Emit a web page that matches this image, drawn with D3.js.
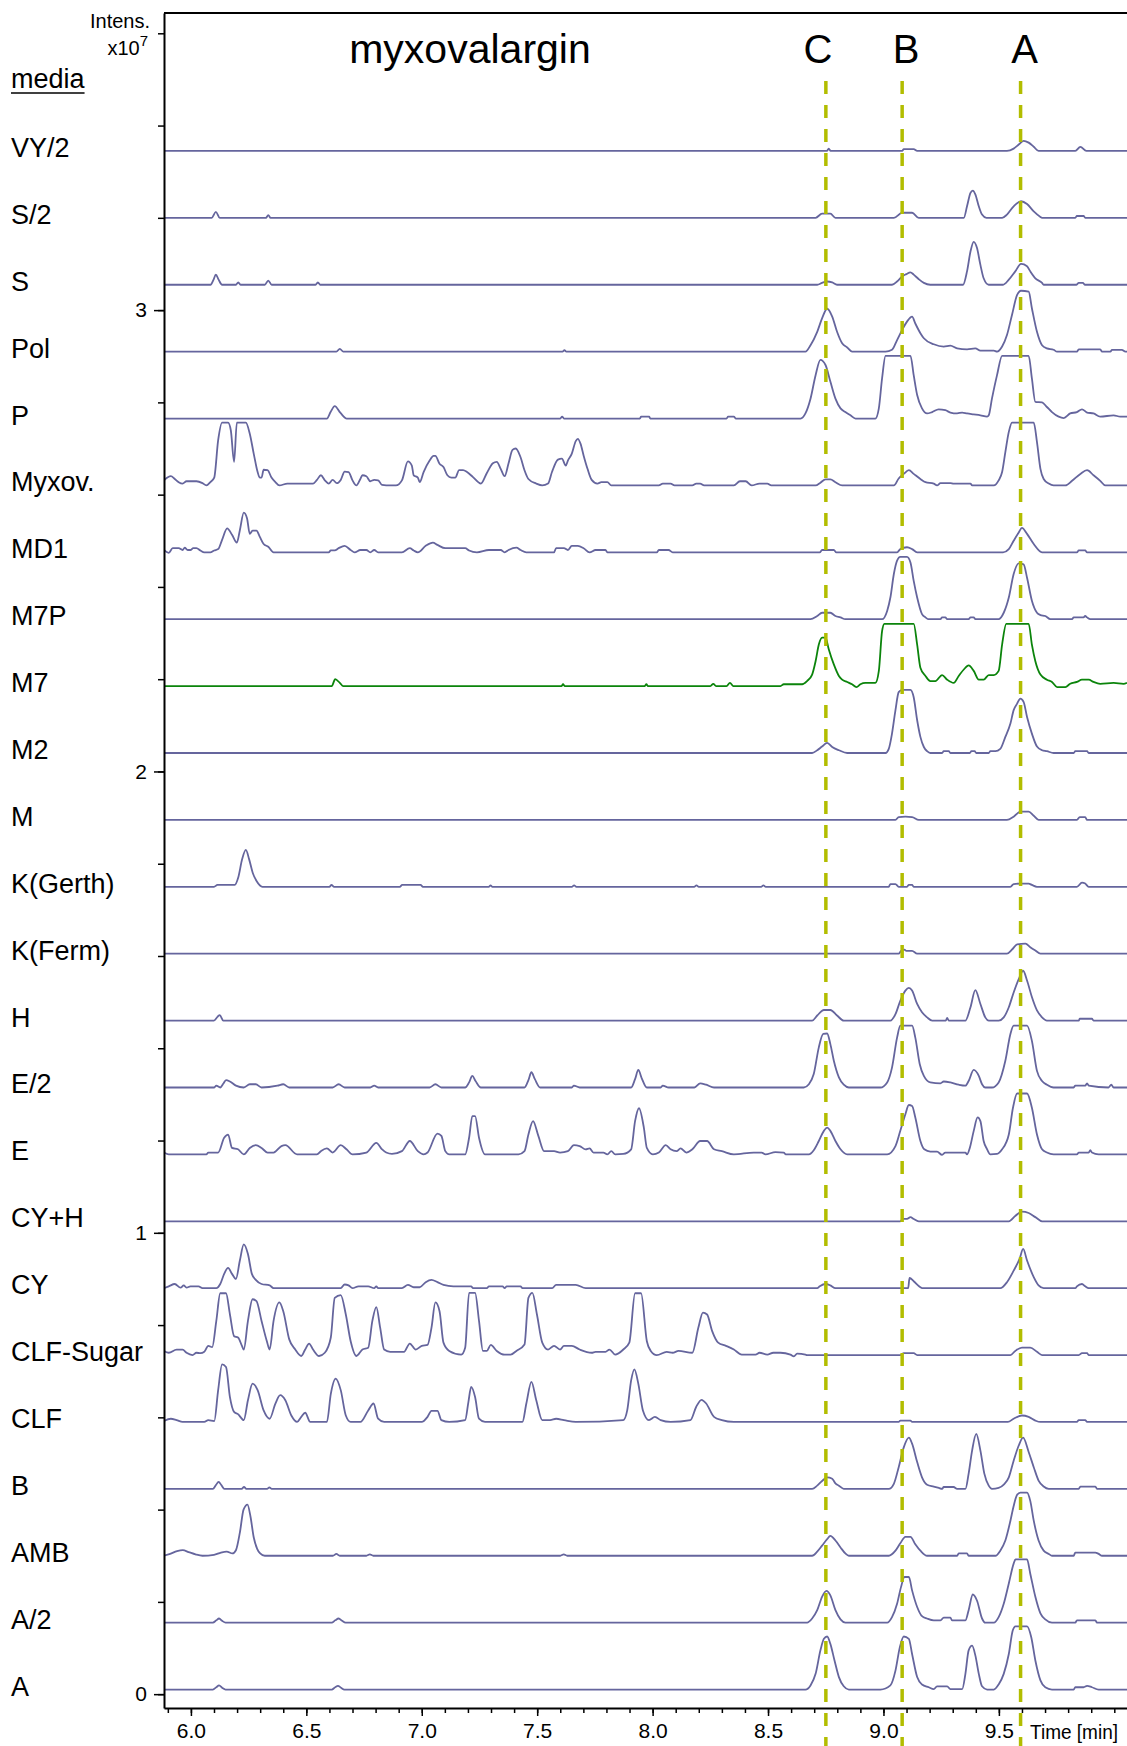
<!DOCTYPE html>
<html>
<head>
<meta charset="utf-8">
<script src="https://cdn.jsdelivr.net/npm/d3@7"></script>
<style>
  body { margin: 0; background: #fff; }
</style>
</head>
<body>
<div id="chart"></div>
<script>
// retention time window (min) and intensity window (x10^7)
var timeDomain = [5.8834, 10.055];
var intensDomain = [-0.03, 3.644];
var xMajorTicks = [6.0, 6.5, 7.0, 7.5, 8.0, 8.5, 9.0, 9.5];
var yMajorTicks = [0, 1, 2, 3];

// marked compounds C, B, A (retention time, min)
var peakNames = ['C', 'B', 'A'];
var peakTimes = [8.7505, 9.081, 9.594];

// media, bottom trace first
var sampleNames = ['A', 'A/2', 'AMB', 'B', 'CLF', 'CLF-Sugar', 'CY', 'CY+H', 'E', 'E/2', 'H',
  'K(Ferm)', 'K(Gerth)', 'M', 'M2', 'M7', 'M7P', 'MD1', 'Myxov.', 'P', 'Pol', 'S', 'S/2', 'VY/2'];

// each trace: [time (min), intensity above its own baseline (x10^4)]
var traceA = [[5.883,0],[6.095,0],[6.11,5],[6.122,9],[6.135,4],[6.15,0],[6.61,0],[6.625,5],[6.637,8],[6.65,4],[6.665,0],
  [8.662,0],[8.684,9],[8.706,34],[8.727,85],[8.742,110],[8.756,115],[8.770,99],[8.788,63],[8.807,27],[8.828,7],[8.850,0],
  [8.987,0],[9.030,9],[9.052,41],[9.071,92],[9.088,115],[9.110,110],[9.124,77],[9.146,27],[9.167,11],[9.196,5],[9.218,1],[9.232,7],[9.276,7],[9.290,1],[9.341,1],
  [9.355,34],[9.369,85],[9.384,95],[9.398,74],[9.413,34],[9.427,7],[9.449,0],[9.478,0],
  [9.499,11],[9.521,34],[9.543,77],[9.560,128],[9.572,137],[9.622,137],[9.640,114],[9.658,63],[9.680,20],[9.701,5],[9.730,0],
  [9.824,0],[9.831,5],[9.867,5],[9.882,8],[9.903,5],[9.932,0],[10.055,0]];

var traceA2 = [[5.883,0],[6.095,0],[6.11,5],[6.122,9],[6.135,4],[6.15,0],[6.61,0],[6.625,5],[6.64,9],[6.655,4],[6.67,0],
  [8.669,0],[8.691,9],[8.713,27],[8.734,56],[8.753,69],[8.770,59],[8.792,27],[8.814,7],[8.835,0],
  [9.016,0],[9.037,12],[9.059,41],[9.076,77],[9.091,99],[9.110,99],[9.124,70],[9.146,34],[9.167,14],[9.189,9],[9.218,5],[9.247,5],[9.261,11],[9.290,11],[9.297,5],[9.355,5],
  [9.369,27],[9.387,61],[9.405,48],[9.427,9],[9.441,0],[9.478,0],
  [9.499,12],[9.521,41],[9.543,85],[9.564,128],[9.572,137],[9.622,137],[9.636,106],[9.658,56],[9.680,20],[9.701,7],[9.730,0],
  [9.831,0],[9.838,5],[9.918,5],[9.925,0],[10.055,0]];

var traceAMB = [[5.883,0],[5.91,4],[5.94,10],[5.965,12],[5.99,8],[6.02,3],[6.05,0],[6.10,2],[6.13,7],[6.155,9],[6.18,5],[6.195,12],[6.212,50],[6.228,100],[6.245,111],[6.258,85],[6.272,40],[6.287,15],[6.30,5],[6.32,0],
  [6.615,0],[6.63,4],[6.645,0],[6.76,0],[6.775,3],[6.79,0],[7.60,0],[7.615,3],[7.63,0],
  [8.691,0],[8.713,9],[8.734,22],[8.756,36],[8.770,43],[8.792,33],[8.814,18],[8.835,5],[8.850,0],
  [9.023,0],[9.052,11],[9.073,27],[9.095,41],[9.117,41],[9.138,25],[9.160,11],[9.189,0],[9.319,0],[9.326,5],[9.362,5],[9.369,0],[9.485,0],
  [9.506,11],[9.528,33],[9.550,76],[9.564,108],[9.579,132],[9.593,137],[9.622,137],[9.636,119],[9.651,76],[9.672,33],[9.694,11],[9.716,4],[9.73,0],
  [9.824,0],[9.831,7],[9.918,7],[9.932,4],[9.947,0],[10.055,0]];

var traceB = [[5.883,0],[6.095,0],[6.108,8],[6.12,15],[6.132,8],[6.145,0],[6.22,0],[6.23,4],[6.24,0],[6.33,0],[6.34,3],[6.35,0],
  [8.691,0],[8.713,7],[8.734,17],[8.756,25],[8.778,22],[8.792,12],[8.807,7],[8.828,0],
  [9.023,0],[9.045,11],[9.066,47],[9.088,90],[9.110,111],[9.124,98],[9.146,58],[9.167,25],[9.189,9],[9.218,5],[9.240,2],[9.254,0],[9.261,4],[9.304,4],[9.319,0],[9.355,0],
  [9.369,33],[9.384,83],[9.402,119],[9.420,83],[9.437,33],[9.456,7],[9.470,0],[9.499,2],
  [9.521,9],[9.543,25],[9.564,61],[9.586,94],[9.605,111],[9.629,80],[9.651,47],[9.672,18],[9.694,5],[9.716,0],
  [9.846,0],[9.853,5],[9.918,5],[9.925,0],[10.055,0]];

var traceCLF = [[5.883,2],[5.913,7],[5.938,4],[5.964,0],[6.058,0],[6.075,4],[6.101,2],[6.118,69],[6.135,125],[6.152,119],[6.169,54],[6.187,22],[6.204,17],[6.229,4],[6.247,47],[6.267,83],[6.289,69],[6.315,25],[6.341,7],[6.366,40],[6.387,58],[6.409,47],[6.435,14],[6.460,0],[6.478,11],[6.495,20],[6.517,0],[6.589,0],[6.606,61],[6.627,94],[6.649,69],[6.671,14],[6.692,0],[6.734,0],[6.768,25],[6.791,40],[6.811,7],[6.837,0],[7.000,0],[7.025,11],[7.042,24],[7.068,24],[7.085,4],[7.119,0],[7.188,4],[7.202,43],[7.214,76],[7.231,54],[7.248,7],[7.274,0],[7.436,0],[7.453,40],[7.475,87],[7.496,47],[7.522,4],[7.556,4],[7.582,7],[7.616,4],[7.667,0],[7.873,4],[7.890,25],[7.907,90],[7.921,114],[7.938,83],[7.958,25],[7.984,4],[8.010,11],[8.035,4],[8.078,0],[8.164,4],[8.189,33],[8.212,48],[8.232,40],[8.266,11],[8.300,4],[8.352,0],
  [9.066,0],[9.073,3],[9.117,3],[9.124,0],[9.539,0],[9.564,7],[9.600,14],[9.629,11],[9.658,3],[9.680,0],[9.838,0],[9.846,4],[9.874,4],[9.882,0],[10.055,0]];

var traceCLFSugar = [[5.883,9],[5.904,5],[5.938,12],[5.964,12],[5.981,5],[6.007,0],[6.024,5],[6.041,4],[6.058,7],[6.075,20],[6.092,17],[6.110,74],[6.127,134],[6.152,134],[6.169,88],[6.187,41],[6.204,38],[6.221,20],[6.229,12],[6.247,74],[6.267,121],[6.284,117],[6.306,74],[6.329,30],[6.341,12],[6.358,74],[6.383,114],[6.400,95],[6.426,34],[6.452,12],[6.478,-2],[6.495,12],[6.512,25],[6.529,12],[6.555,-2],[6.580,5],[6.606,38],[6.623,124],[6.649,130],[6.671,88],[6.692,30],[6.717,-2],[6.743,12],[6.768,16],[6.786,74],[6.803,104],[6.820,59],[6.837,12],[6.863,7],[6.923,7],[6.948,25],[6.974,12],[7.000,20],[7.025,22],[7.042,59],[7.059,114],[7.077,95],[7.094,27],[7.119,9],[7.171,1],[7.188,16],[7.205,135],[7.231,135],[7.248,74],[7.265,9],[7.282,9],[7.299,22],[7.325,9],[7.359,1],[7.385,1],[7.410,9],[7.445,23],[7.462,124],[7.479,135],[7.499,88],[7.522,27],[7.547,12],[7.573,20],[7.599,12],[7.616,20],[7.650,20],[7.684,12],[7.736,5],[7.753,7],[7.796,7],[7.813,12],[7.838,1],[7.873,12],[7.899,27],[7.924,134],[7.950,134],[7.975,30],[7.992,9],[8.018,0],[8.061,7],[8.087,5],[8.112,9],[8.172,5],[8.198,59],[8.218,92],[8.236,88],[8.258,52],[8.284,27],[8.318,20],[8.352,12],[8.386,1],[8.446,1],[8.463,5],[8.497,1],[8.523,5],[8.554,5],[8.597,1],[8.612,-3],[8.626,3],[8.662,1],[8.669,0],
  [9.073,0],[9.088,4],[9.131,4],[9.146,0],[9.550,0],[9.571,9],[9.600,16],[9.636,16],[9.665,7],[9.687,0],[9.846,0],[9.860,4],[9.882,4],[9.889,0],[10.055,0]];

var traceCY = [[5.883,0],[5.904,4],[5.930,9],[5.955,1],[5.969,6],[5.981,1],[5.998,4],[6.033,4],[6.050,0],[6.110,0],[6.127,9],[6.144,31],[6.161,44],[6.178,31],[6.195,20],[6.212,60],[6.229,95],[6.247,74],[6.264,31],[6.281,18],[6.306,9],[6.341,6],[6.358,0],[6.649,0],[6.666,8],[6.683,6],[6.700,0],[6.726,4],[6.768,4],[6.794,0],[6.803,4],[6.811,0],[6.914,0],[6.940,7],[6.965,2],[6.991,2],[7.017,13],[7.042,18],[7.068,13],[7.094,7],[7.137,4],[7.214,4],[7.222,0],[7.282,0],[7.291,4],[7.350,4],[7.359,0],[7.368,4],[7.428,4],[7.436,0],[7.565,0],[7.582,7],[7.667,7],[7.710,0],
  [8.713,0],[8.724,4],[8.749,9],[8.770,6],[8.792,0],[9.107,0],[9.113,22],[9.131,15],[9.160,2],[9.167,0],[9.506,0],[9.535,13],[9.564,38],[9.590,64],[9.605,85],[9.622,60],[9.651,24],[9.672,6],[9.694,0],[9.831,0],[9.838,4],[9.860,9],[9.874,4],[9.889,0],[10.055,0]];

var traceCYH = [[5.883,0],[9.073,0],[9.085,5],[9.102,5],[9.117,9],[9.131,5],[9.153,0],[9.543,0],[9.572,12],[9.600,21],[9.629,18],[9.658,9],[9.687,0],[10.055,0]];

var traceE = [[5.883,4],[5.904,0],[6.067,0],[6.075,4],[6.118,4],[6.144,36],[6.161,43],[6.178,14],[6.204,11],[6.229,0],[6.255,14],[6.281,20],[6.306,14],[6.332,4],[6.358,4],[6.392,18],[6.409,20],[6.460,0],[6.546,0],[6.563,7],[6.589,13],[6.614,4],[6.649,20],[6.674,11],[6.700,0],[6.760,4],[6.803,25],[6.828,11],[6.846,4],[6.871,1],[6.914,7],[6.948,29],[6.983,7],[7.008,0],[7.025,4],[7.068,45],[7.085,40],[7.102,7],[7.119,0],[7.188,0],[7.205,36],[7.219,83],[7.231,83],[7.248,36],[7.274,0],[7.419,0],[7.445,7],[7.462,43],[7.482,72],[7.505,40],[7.530,7],[7.573,7],[7.599,4],[7.633,7],[7.659,20],[7.684,18],[7.710,11],[7.727,13],[7.744,4],[7.787,4],[7.804,0],[7.821,7],[7.838,0],[7.873,1],[7.907,11],[7.924,72],[7.941,100],[7.962,58],[7.975,14],[8.001,0],[8.027,4],[8.057,20],[8.078,11],[8.104,7],[8.121,13],[8.146,4],[8.172,11],[8.206,29],[8.236,29],[8.266,11],[8.300,7],[8.352,0],[8.438,4],[8.472,4],[8.489,0],[8.532,5],[8.568,4],[8.577,0],
  [8.677,0],[8.698,9],[8.720,29],[8.742,51],[8.756,58],[8.770,51],[8.792,29],[8.814,11],[8.843,0],
  [9.016,0],[9.052,18],[9.073,51],[9.095,87],[9.110,107],[9.124,105],[9.138,80],[9.160,29],[9.177,11],[9.203,6],[9.232,6],[9.254,-1],[9.268,4],[9.355,4],[9.362,0],
  [9.374,14],[9.391,51],[9.408,80],[9.420,72],[9.434,29],[9.449,11],[9.463,0],[9.492,1],
  [9.514,11],[9.543,43],[9.561,101],[9.579,132],[9.622,132],[9.643,101],[9.665,43],[9.687,11],[9.708,4],[9.737,0],[9.838,0],[9.846,4],[9.889,4],[9.896,9],[9.903,4],[9.932,0],[10.055,0]];

var traceE2 = [[5.883,0],[6.101,0],[6.110,4],[6.127,0],[6.140,8],[6.152,16],[6.169,13],[6.195,4],[6.229,0],[6.255,7],[6.281,7],[6.306,0],[6.375,4],[6.400,7],[6.426,0],[6.614,0],[6.640,7],[6.666,0],[6.777,0],[6.794,4],[6.811,0],[7.034,0],[7.059,7],[7.085,0],[7.188,0],[7.205,11],[7.219,25],[7.233,14],[7.256,0],[7.445,0],[7.462,16],[7.475,33],[7.490,18],[7.513,0],[7.650,0],[7.659,4],[7.684,0],[7.907,0],[7.924,18],[7.938,38],[7.953,20],[7.975,0],[8.035,0],[8.044,4],[8.070,0],[8.181,0],[8.206,9],[8.232,6],[8.266,0],
  [8.655,0],[8.677,7],[8.698,29],[8.720,87],[8.739,116],[8.756,117],[8.770,94],[8.785,58],[8.807,22],[8.828,6],[8.850,0],
  [8.987,0],[9.016,11],[9.037,43],[9.059,108],[9.073,134],[9.124,134],[9.138,108],[9.157,51],[9.175,25],[9.203,11],[9.247,9],[9.261,13],[9.290,11],[9.326,6],[9.355,4],
  [9.369,14],[9.391,38],[9.413,25],[9.427,7],[9.441,0],[9.470,0],
  [9.499,11],[9.528,58],[9.550,116],[9.564,134],[9.622,134],[9.643,101],[9.665,36],[9.687,14],[9.708,6],[9.737,0],[9.824,0],[9.831,4],[9.874,4],[9.882,9],[9.889,4],[9.975,0],[9.987,6],[9.997,0],[10.055,0]];

var traceH = [[5.883,0],[6.100,0],[6.115,8],[6.125,12],[6.140,0],
  [8.691,0],[8.713,11],[8.742,23],[8.770,23],[8.799,11],[8.828,0],
  [9.030,0],[9.052,14],[9.073,43],[9.095,65],[9.110,71],[9.124,65],[9.146,36],[9.167,18],[9.189,7],[9.211,0],[9.270,0],[9.276,6],[9.283,0],
  [9.355,0],[9.377,29],[9.398,66],[9.420,36],[9.441,7],[9.456,0],
  [9.499,0],[9.521,7],[9.543,29],[9.564,61],[9.586,90],[9.605,108],[9.622,87],[9.643,51],[9.665,22],[9.687,7],[9.708,0],[9.846,0],[9.850,4],[9.903,4],[9.910,0],[10.055,0]];

var traceKFerm = [[5.883,0],[9.066,0],[9.076,6],[9.091,9],[9.099,6],[9.124,6],[9.146,0],[9.535,0],[9.557,9],[9.579,20],[9.615,22],[9.636,14],[9.658,7],[9.680,0],[10.055,0]];

var traceKGerth = [[5.883,0],[6.100,0],[6.115,4],[6.190,4],[6.205,20],[6.222,60],[6.238,80],[6.252,60],[6.268,30],[6.285,12],[6.310,0],[6.600,0],[6.609,4],[6.620,0],[6.905,0],[6.915,4],[6.995,4],[7.005,0],[7.290,0],[7.298,3],[7.306,0],[7.650,0],[7.660,3],[7.670,0],[8.180,0],[8.190,3],[8.200,0],[8.470,0],[8.480,3],[8.490,0],
  [9.023,0],[9.030,6],[9.052,6],[9.066,0],[9.102,0],[9.110,4],[9.124,4],[9.131,0],[9.550,0],[9.564,6],[9.593,7],[9.629,7],[9.643,4],[9.665,0],[9.838,0],[9.860,9],[9.874,7],[9.889,0],[10.055,0]];

var traceM = [[5.883,0],[9.052,0],[9.066,6],[9.095,7],[9.124,6],[9.153,0],[9.535,0],[9.564,7],[9.593,18],[9.629,18],[9.651,9],[9.672,0],[9.838,0],[9.850,6],[9.874,6],[9.882,0],[10.055,0]];

var traceM2 = [[5.883,0],[8.691,0],[8.713,6],[8.734,14],[8.756,22],[8.778,13],[8.807,6],[8.843,0],[9.009,0],[9.023,9],[9.037,42],[9.052,93],[9.066,132],[9.081,137],[9.117,137],[9.131,121],[9.146,71],[9.160,35],[9.175,13],[9.189,4],[9.203,0],[9.254,0],[9.261,4],[9.283,4],[9.290,0],[9.374,0],[9.381,4],[9.395,4],[9.402,0],[9.456,0],[9.463,4],[9.485,4],[9.506,9],[9.528,35],[9.550,64],[9.564,93],[9.579,107],[9.593,118],[9.607,111],[9.622,78],[9.643,42],[9.665,14],[9.687,6],[9.708,4],[9.737,0],[9.824,0],[9.831,4],[9.882,4],[9.889,0],[10.055,0]];

var traceM7 = [[5.883,0],[6.610,0],[6.625,15],[6.645,7],[6.660,0],[7.605,0],[7.612,4],[7.620,0],[7.965,0],[7.973,4],[7.980,0],[8.250,0],[8.263,5],[8.275,0],[8.320,0],[8.335,7],[8.350,0],
  [8.554,0],[8.568,4],[8.648,4],[8.669,11],[8.691,25],[8.706,54],[8.720,90],[8.734,105],[8.749,105],[8.763,80],[8.785,47],[8.807,22],[8.821,14],[8.843,9],[8.864,4],[8.883,-2],[8.900,4],[8.922,7],[8.965,7],[8.980,33],[8.994,119],[9.004,135],[9.131,135],[9.146,90],[9.160,40],[9.182,22],[9.203,11],[9.225,11],[9.254,24],[9.276,14],[9.304,7],[9.326,22],[9.348,36],[9.369,45],[9.391,33],[9.413,14],[9.434,14],[9.456,24],[9.478,24],[9.499,33],[9.514,90],[9.532,135],[9.629,135],[9.643,90],[9.658,54],[9.680,25],[9.708,14],[9.730,9],[9.752,-2],[9.788,-2],[9.809,5],[9.838,9],[9.860,14],[9.889,14],[9.910,9],[9.939,5],[9.997,7],[10.040,5],[10.055,7]];

var traceM7P = [[5.883,0],[8.684,0],[8.713,7],[8.734,14],[8.770,14],[8.792,7],[8.814,4],[8.835,0],[8.994,0],[9.016,18],[9.030,47],[9.045,98],[9.059,127],[9.073,135],[9.102,135],[9.117,123],[9.131,83],[9.146,47],[9.167,11],[9.182,4],[9.196,0],[9.247,0],[9.254,4],[9.268,4],[9.276,0],[9.369,0],[9.377,4],[9.391,4],[9.398,0],[9.499,0],[9.521,14],[9.543,47],[9.564,98],[9.586,121],[9.607,119],[9.622,90],[9.643,40],[9.665,14],[9.680,9],[9.701,7],[9.723,0],[9.817,0],[9.824,4],[9.867,4],[9.874,7],[9.882,4],[9.896,0],[10.055,0]];

var traceMD1 = [[5.883,5],[5.904,-1],[5.921,9],[5.947,9],[5.964,5],[5.973,10],[5.986,5],[5.998,5],[6.010,9],[6.024,9],[6.041,4],[6.058,0],[6.084,0],[6.101,4],[6.118,7],[6.135,27],[6.157,52],[6.178,38],[6.199,21],[6.212,48],[6.229,86],[6.243,74],[6.255,40],[6.267,47],[6.284,47],[6.298,34],[6.315,18],[6.335,12],[6.358,0],[6.597,0],[6.606,4],[6.623,4],[6.640,9],[6.666,14],[6.692,5],[6.709,0],[6.734,5],[6.760,5],[6.777,0],[6.794,5],[6.811,0],[6.914,0],[6.948,9],[6.965,4],[6.983,0],[7.017,14],[7.048,21],[7.068,16],[7.102,9],[7.188,9],[7.205,4],[7.239,0],[7.291,5],[7.342,5],[7.359,0],[7.376,5],[7.410,10],[7.428,5],[7.453,0],[7.573,0],[7.582,9],[7.616,9],[7.633,5],[7.650,14],[7.676,14],[7.701,9],[7.727,0],[7.753,5],[7.796,5],[7.804,0],[8.018,0],[8.027,5],[8.069,5],[8.087,0],
  [8.724,0],[8.734,5],[8.785,5],[8.796,0],[9.059,0],[9.073,7],[9.102,11],[9.124,7],[9.146,0],[9.518,0],[9.543,7],[9.564,25],[9.586,43],[9.600,53],[9.622,40],[9.651,18],[9.687,0],[9.838,0],[9.846,4],[9.874,4],[9.882,0],[10.055,0]];

var traceMyxov = [[5.883,11],[5.913,20],[5.930,14],[5.947,7],[5.964,4],[5.981,9],[6.024,9],[6.050,5],[6.067,0],[6.084,7],[6.101,17],[6.118,98],[6.135,136],[6.161,136],[6.173,119],[6.187,51],[6.199,136],[6.238,136],[6.255,112],[6.272,69],[6.289,29],[6.298,17],[6.306,17],[6.315,34],[6.332,33],[6.349,17],[6.366,7],[6.383,0],[6.418,4],[6.529,4],[6.546,12],[6.563,22],[6.580,11],[6.597,4],[6.614,12],[6.632,5],[6.649,12],[6.666,30],[6.683,29],[6.700,11],[6.717,0],[6.734,14],[6.743,22],[6.760,20],[6.777,9],[6.794,12],[6.811,11],[6.828,1],[6.846,0],[6.888,0],[6.914,11],[6.940,52],[6.957,43],[6.965,22],[6.983,17],[6.991,7],[7.008,29],[7.034,54],[7.051,64],[7.059,64],[7.077,47],[7.094,40],[7.111,22],[7.128,17],[7.145,17],[7.162,33],[7.179,33],[7.196,29],[7.222,18],[7.256,4],[7.282,27],[7.308,48],[7.325,51],[7.342,36],[7.359,20],[7.376,48],[7.393,77],[7.407,80],[7.428,61],[7.445,33],[7.462,14],[7.496,4],[7.522,0],[7.547,4],[7.564,29],[7.590,56],[7.607,58],[7.624,43],[7.633,54],[7.650,69],[7.667,96],[7.676,101],[7.688,90],[7.701,65],[7.718,36],[7.736,12],[7.761,4],[7.778,7],[7.804,7],[7.821,0],[8.027,0],[8.044,4],[8.078,4],[8.095,0],[8.172,0],[8.189,4],[8.206,4],[8.223,0],[8.352,0],[8.378,9],[8.403,9],[8.429,0],[8.463,4],[8.497,4],[8.514,0],
  [8.706,0],[8.727,6],[8.749,13],[8.770,13],[8.792,7],[8.821,0],[9.045,0],[9.066,15],[9.088,25],[9.110,33],[9.131,25],[9.160,14],[9.182,7],[9.218,4],[9.232,0],[9.247,5],[9.290,5],[9.304,4],[9.377,4],[9.384,0],[9.478,0],[9.499,11],[9.514,29],[9.528,72],[9.543,116],[9.557,136],[9.651,136],[9.665,94],[9.680,36],[9.694,14],[9.716,4],[9.737,0],[9.788,0],[9.817,10],[9.853,25],[9.882,33],[9.910,22],[9.939,10],[9.961,0],[10.055,0]];

var traceP = [[5.883,0],[6.589,0],[6.605,14],[6.623,27],[6.648,12],[6.675,0],[7.600,0],[7.608,4],[7.616,0],[7.945,0],[7.950,4],[7.985,4],[7.990,0],[8.320,0],[8.327,4],[8.352,4],[8.360,0],
  [8.641,0],[8.662,11],[8.684,43],[8.706,94],[8.727,127],[8.749,116],[8.770,80],[8.792,43],[8.814,22],[8.835,14],[8.857,7],[8.879,0],[8.965,0],[8.980,22],[8.994,87],[9.009,136],[9.117,136],[9.131,94],[9.146,51],[9.167,22],[9.189,11],[9.211,14],[9.239,20],[9.268,18],[9.290,13],[9.319,11],[9.341,13],[9.362,11],[9.391,9],[9.420,7],[9.449,4],[9.456,7],[9.470,43],[9.492,94],[9.514,136],[9.629,136],[9.643,87],[9.658,36],[9.687,35],[9.708,25],[9.730,14],[9.759,4],[9.781,1],[9.809,11],[9.838,14],[9.860,20],[9.882,13],[9.910,11],[9.939,4],[9.997,7],[10.026,4],[10.055,4]];

var tracePol = [[5.883,0],[6.630,0],[6.645,6],[6.660,0],[7.610,0],[7.618,3],[7.626,0],
  [8.662,0],[8.684,14],[8.713,43],[8.734,72],[8.756,93],[8.778,76],[8.799,43],[8.821,18],[8.843,9],[8.864,0],[9.009,0],[9.037,4],[9.059,25],[9.081,47],[9.102,65],[9.124,76],[9.138,61],[9.160,40],[9.175,29],[9.218,16],[9.261,11],[9.290,13],[9.319,7],[9.362,5],[9.398,7],[9.420,2],[9.478,2],[9.492,0],[9.514,11],[9.535,36],[9.557,80],[9.579,123],[9.596,132],[9.629,130],[9.643,94],[9.665,43],[9.687,14],[9.708,7],[9.737,4],[9.752,0],[9.838,0],[9.846,5],[9.939,5],[9.947,0],[9.983,0],[9.990,4],[10.033,4],[10.048,0],[10.055,0]];

var traceS = [[5.883,0],[6.085,0],[6.098,11],[6.108,22],[6.120,11],[6.135,0],[6.195,0],[6.205,5],[6.215,0],[6.320,0],[6.335,9],[6.350,0],[6.540,0],[6.550,5],[6.560,0],
  [8.713,0],[8.734,4],[8.756,7],[8.778,5],[8.799,0],[9.037,0],[9.059,7],[9.081,18],[9.099,23],[9.117,27],[9.131,22],[9.153,12],[9.175,4],[9.203,0],[9.345,0],[9.362,29],[9.377,72],[9.391,93],[9.405,80],[9.420,43],[9.434,14],[9.456,0],[9.518,0],[9.543,11],[9.571,29],[9.596,45],[9.622,40],[9.636,29],[9.658,14],[9.687,4],[9.694,0],[9.835,0],[9.846,4],[9.864,4],[9.872,0],[10.055,0]];

var traceS2 = [[5.883,0],[6.090,0],[6.108,13],[6.125,0],[6.325,0],[6.335,6],[6.345,0],
  [8.706,0],[8.734,9],[8.770,9],[8.792,0],[9.045,0],[9.081,11],[9.124,11],[9.153,0],[9.348,0],[9.362,25],[9.377,54],[9.387,59],[9.398,51],[9.413,25],[9.427,7],[9.446,0],[9.514,0],[9.535,7],[9.564,25],[9.596,36],[9.622,30],[9.651,14],[9.680,2],[9.687,0],[9.831,0],[9.838,4],[9.867,4],[9.874,0],[10.055,0]];

var traceVY2 = [[5.883,0],[8.755,0],[8.763,5],[8.771,0],[9.081,0],[9.088,4],[9.131,4],[9.146,0],[9.535,0],[9.564,5],[9.586,14],[9.607,22],[9.629,18],[9.651,9],[9.672,0],[9.831,0],[9.853,9],[9.879,0],[10.055,0]];

var traces = [traceA, traceA2, traceAMB, traceB, traceCLF, traceCLFSugar, traceCY, traceCYH, traceE, traceE2, traceH,
  traceKFerm, traceKGerth, traceM, traceM2, traceM7, traceM7P, traceMD1, traceMyxov, traceP, tracePol, traceS, traceS2, traceVY2];

// stacking of the traces (x10^7)
var baseOffset = 0.01;
var offsetStep = 0.145;

var width = 1127;
var height = 1746;
var plotLeft = 164, plotRight = 1127, plotTop = 13, plotBottom = 1708;
var font = '"Liberation Sans", Arial, Helvetica, sans-serif';
var traceColor = '#65659d';
var highlightColor = '#0b840b';
var guideColor = '#b2bd00';

var x = d3.scaleLinear().domain(timeDomain).range([plotLeft, plotRight]);
var y = d3.scaleLinear().domain(intensDomain).range([plotBottom, plotTop]);

var svg = d3.select('#chart')
  .append('svg')
  .attr('width', width)
  .attr('height', height)
  .style('font-family', font);

svg.append('defs').append('clipPath')
  .attr('id', 'plotclip')
  .append('rect')
  .attr('x', plotLeft)
  .attr('y', plotTop)
  .attr('width', plotRight - plotLeft)
  .attr('height', plotBottom - plotTop);

// traces
var tracesG = svg.append('g').attr('clip-path', 'url(#plotclip)');
traces.forEach(function(tr, i) {
  var off = baseOffset + i * offsetStep;
  var line = d3.line()
    .x(function(d) { return x(d[0]); })
    .y(function(d) { return y(off + d[1] / 1000); })
    .curve(d3.curveMonotoneX);
  tracesG.append('path')
    .datum(tr)
    .attr('d', line)
    .attr('fill', 'none')
    .attr('stroke', sampleNames[i] === 'M7' ? highlightColor : traceColor)
    .attr('stroke-width', 1.8)
    .attr('stroke-linejoin', 'round');
});

// sample labels
svg.append('g').selectAll('text')
  .data(sampleNames)
  .enter().append('text')
  .attr('x', 11)
  .attr('y', function(d, i) { return y(baseOffset + i * offsetStep) + 6; })
  .attr('font-size', 27)
  .attr('fill', '#000')
  .text(function(d) { return d; });

var media = svg.append('text')
  .attr('x', 11)
  .attr('y', y(baseOffset + 23 * offsetStep) - 63)
  .attr('font-size', 27)
  .text('media');
var mediaLen = media.node().getComputedTextLength();
svg.append('line')
  .attr('x1', 11).attr('x2', 11 + mediaLen)
  .attr('y1', +media.attr('y') + 5).attr('y2', +media.attr('y') + 5)
  .attr('stroke', '#000').attr('stroke-width', 1.5);

// axes
var xAxis = d3.axisBottom(x)
  .tickValues(xMajorTicks)
  .tickFormat(d3.format('.1f'))
  .tickSize(8)
  .tickSizeOuter(0)
  .tickPadding(7);
var gx = svg.append('g')
  .attr('transform', 'translate(0,' + plotBottom + ')')
  .call(xAxis);
gx.select('.domain').attr('stroke-width', 2);
gx.selectAll('.tick line').attr('stroke-width', 1.5);
gx.selectAll('.tick text').attr('font-size', 21).attr('font-family', font);

var gxMinor = svg.append('g')
  .attr('transform', 'translate(0,' + plotBottom + ')')
  .call(d3.axisBottom(x).tickValues(d3.range(59, 101).map(function(v) { return v / 10; })).tickFormat('').tickSize(5).tickSizeOuter(0));
gxMinor.select('.domain').remove();
gxMinor.selectAll('.tick line').attr('stroke-width', 1.5);

var yAxis = d3.axisLeft(y)
  .tickValues(yMajorTicks)
  .tickFormat(d3.format('d'))
  .tickSize(10)
  .tickSizeOuter(0)
  .tickPadding(7);
var gy = svg.append('g')
  .attr('transform', 'translate(' + plotLeft + ',0)')
  .call(yAxis);
gy.select('.domain').attr('stroke-width', 2);
gy.selectAll('.tick line').attr('stroke-width', 1.5);
gy.selectAll('.tick text').attr('font-size', 21).attr('font-family', font);

var gyMinor = svg.append('g')
  .attr('transform', 'translate(' + plotLeft + ',0)')
  .call(d3.axisLeft(y).tickValues(d3.range(0, 19).map(function(v) { return v / 5; })).tickFormat('').tickSize(6).tickSizeOuter(0));
gyMinor.select('.domain').remove();
gyMinor.selectAll('.tick line').attr('stroke-width', 1.5);

// top frame
svg.append('line')
  .attr('x1', plotLeft).attr('x2', plotRight)
  .attr('y1', plotTop).attr('y2', plotTop)
  .attr('stroke', '#000').attr('stroke-width', 2);

// axis titles
svg.append('text')
  .attr('x', 150).attr('y', 28)
  .attr('text-anchor', 'end')
  .attr('font-size', 20)
  .text('Intens.');
var unit = svg.append('text')
  .attr('x', 148).attr('y', 55)
  .attr('text-anchor', 'end')
  .attr('font-size', 20);
unit.append('tspan').text('x10');
unit.append('tspan').attr('dy', -9).attr('font-size', 15).text('7');

svg.append('text')
  .attr('x', plotRight - 9).attr('y', 1739)
  .attr('text-anchor', 'end')
  .attr('font-size', 20)
  .attr('textLength', 88)
  .attr('lengthAdjust', 'spacingAndGlyphs')
  .text('Time [min]');

// title
svg.append('text')
  .attr('x', 470).attr('y', 63)
  .attr('text-anchor', 'middle')
  .attr('font-size', 41)
  .text('myxovalargin');

// peak guides
svg.append('g').selectAll('line')
  .data(peakTimes)
  .enter().append('line')
  .attr('x1', function(d) { return x(d); })
  .attr('x2', function(d) { return x(d); })
  .attr('y1', 81)
  .attr('y2', height)
  .attr('stroke', guideColor)
  .attr('stroke-width', 3.5)
  .attr('stroke-dasharray', '13,11');

var labelShift = [-8, 4, 4];
svg.append('g').selectAll('text')
  .data(peakNames)
  .enter().append('text')
  .attr('x', function(d, i) { return x(peakTimes[i]) + labelShift[i]; })
  .attr('y', 63)
  .attr('text-anchor', 'middle')
  .attr('font-size', 40)
  .text(function(d) { return d; });
</script>
</body>
</html>
